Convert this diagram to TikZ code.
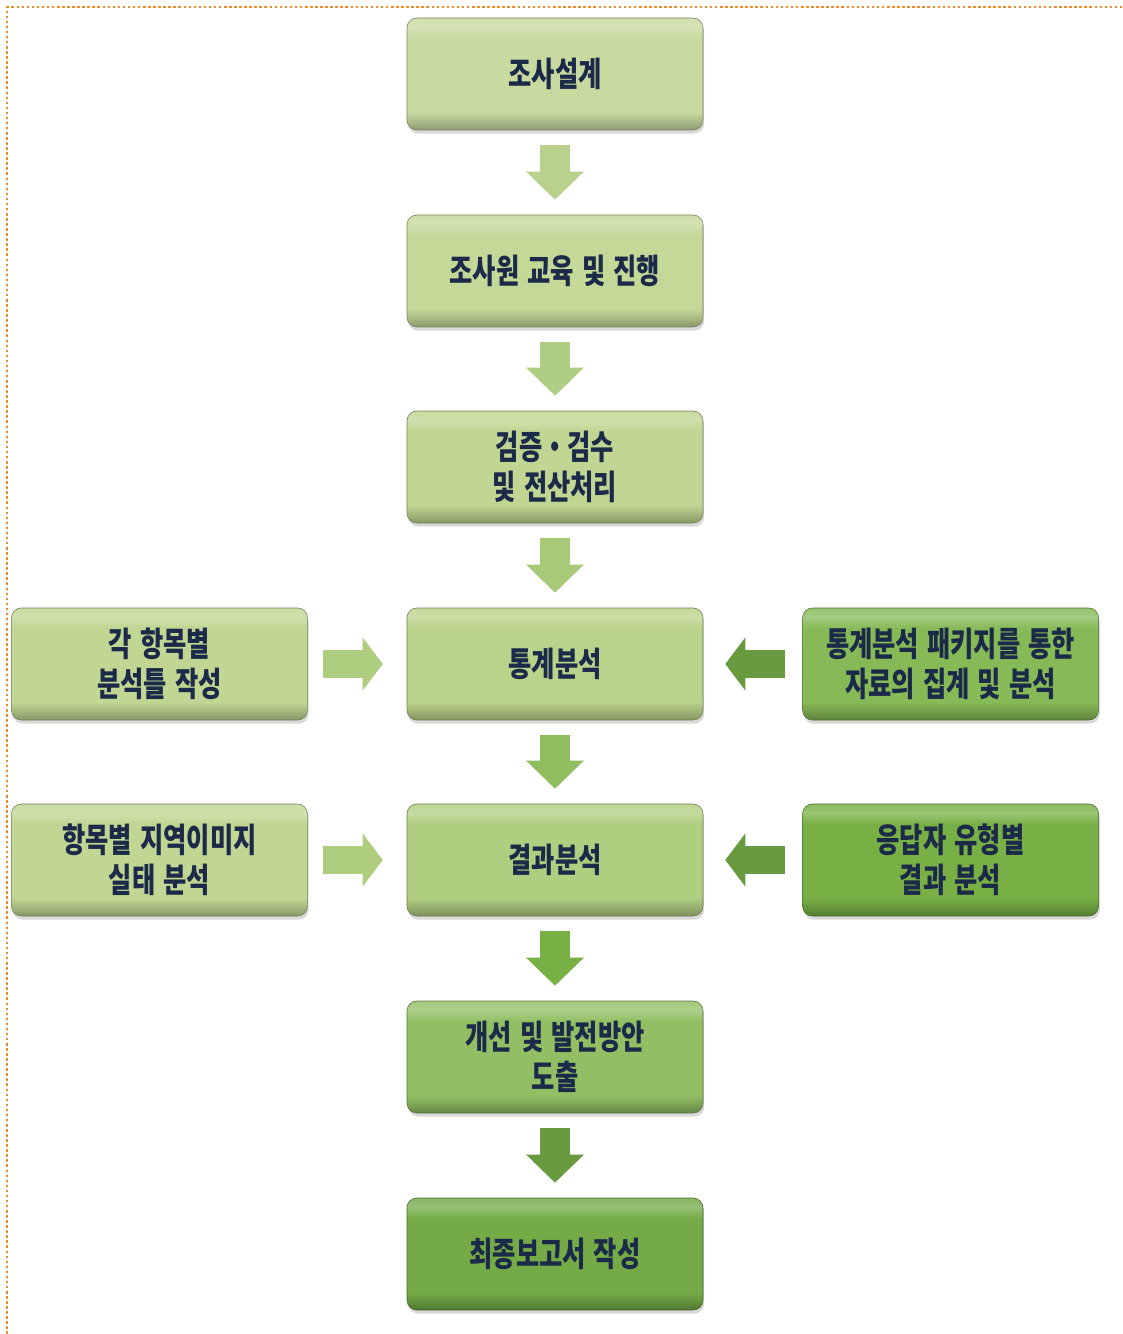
\documentclass[tikz,border=0pt]{standalone}
\usepackage{fontspec}
\usetikzlibrary{shadows,arrows.meta,positioning}
\newfontfamily\kr{Noto Sans CJK KR}[FakeStretch=0.75, WordSpace=1.4]
\usepackage{xcolor}
\definecolor{ink}{HTML}{1B2A48}
\definecolor{frameorange}{HTML}{F0892A}
\definecolor{gA}{HTML}{C8DAA0}
\definecolor{gB}{HTML}{C4D898}
\definecolor{gC}{HTML}{C0D692}
\definecolor{gD}{HTML}{BAD38A}
\definecolor{gE}{HTML}{B0CE80}
\definecolor{gF}{HTML}{92BF63}
\definecolor{gG}{HTML}{74AB47}
\definecolor{gL}{HTML}{C0D692}
\definecolor{gR}{HTML}{86BA57}
\definecolor{gS}{HTML}{78B046}
\colorlet{boxbase}{gA}
\pgfdeclareverticalshading[boxbase]{bevel}{100bp}{%
    color(0bp)=(boxbase!70!black); color(25bp)=(boxbase!70!black);
    color(28bp)=(boxbase!82!black); color(33bp)=(boxbase);
    color(66bp)=(boxbase); color(71bp)=(boxbase!75!white);
    color(75bp)=(boxbase!85!white); color(100bp)=(boxbase!85!white)}

\begin{document}
\begin{tikzpicture}[
    box/.style={/utils/exec={\colorlet{boxbase}{#1}}, draw=#1!60!black, line width=0.4pt,
        rounded corners=7pt, shading=bevel,
        drop shadow={shadow xshift=0.2ex, shadow yshift=-0.6ex, opacity=0.3},
        minimum width=7.4cm, minimum height=2.8cm, align=center, text=ink,
        font=\kr\bfseries\fontsize{24}{28.5}\selectfont},
    flow/.style={line width=0.75cm, draw=#1, -{Triangle[width=1.4cm,length=0.7cm]},
        shorten <=0.375cm, shorten >=0.375cm},
    side/.style={line width=0.7cm, draw=#1, -{Triangle[width=1.3cm,length=0.5cm]}}
]
    \useasboundingbox (0,0) rectangle (28.05,-33.35);

    % Frame
    \draw[frameorange, line width=1.8pt, dash pattern=on 1.8pt off 1.8pt]
        (0.18,-33.35) |- (28.05,-0.18);

    % Main steps
    \node[box=gA] (design) at (13.875,-1.85) {조사설계};
    \node[box=gB] (train) at (13.875,-6.775) {조사원 교육 및 진행};
    \node[box=gC] (verify) at (13.875,-11.675) {검증・검수\\및 전산처리};
    \node[box=gD] (stat) at (13.875,-16.6) {통계분석};
    \node[box=gE] (result) at (13.875,-21.5) {결과분석};
    \node[box=gF] (improve) at (13.875,-26.425) {개선 및 발전방안\\도출};
    \node[box=gG] (report) at (13.875,-31.35) {최종보고서 작성};

    % Side steps
    \node[box=gL, left=2.475cm of stat] (frame) {각 항목별\\분석틀 작성};
    \node[box=gL, left=2.475cm of result] (image) {항목별 지역이미지\\실태 분석};
    \node[box=gR, right=2.475cm of stat] (pkg) {통계분석 패키지를 통한\\자료의 집계 및 분석};
    \node[box=gS, right=2.475cm of result] (resp) {응답자 유형별\\결과 분석};

    % Flow arrows
    \draw[flow=gA!70!gF] (design.south) -- (train.north);
    \draw[flow=gB!60!gF] (train.south) -- (verify.north);
    \draw[flow=gC!45!gF] (verify.south) -- (stat.north);
    \draw[flow=gF!90!gS] (stat.south) -- (result.north);
    \draw[flow=gS] (result.south) -- (improve.north);
    \draw[flow=gG!90!black] (improve.south) -- (report.north);

    \draw[side=gC!60!gF, shorten <=0.375cm, shorten >=0.6cm] (frame.east) -- (stat.west);
    \draw[side=gC!60!gF, shorten <=0.375cm, shorten >=0.6cm] (image.east) -- (result.west);
    \draw[side=gG!90!black, shorten <=0.425cm, shorten >=0.55cm] (pkg.west) -- (stat.east);
    \draw[side=gG!90!black, shorten <=0.425cm, shorten >=0.55cm] (resp.west) -- (result.east);
\end{tikzpicture}
\end{document}
